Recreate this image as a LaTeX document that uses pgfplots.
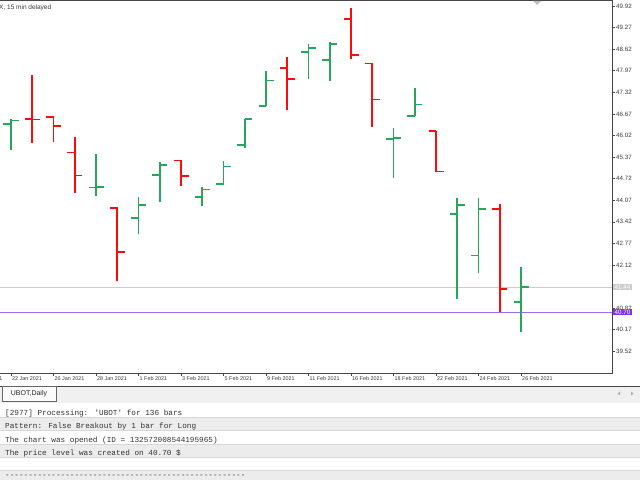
\documentclass[border=0pt]{standalone}
\usepackage{pgfplots}
\pgfplotsset{compat=1.18}
\usepackage{pgfplotstable}
\usepackage{fontspec}
\setmainfont{Liberation Sans}
\newfontfamily\monofont{Liberation Mono}
\definecolor{bull}{RGB}{38,166,91}
\definecolor{bear}{RGB}{255,10,10}
\definecolor{lvl}{RGB}{165,105,240}
\definecolor{lvlbox}{RGB}{130,50,230}
\definecolor{bidgray}{RGB}{205,205,205}
\definecolor{axisgray}{RGB}{70,70,70}
\definecolor{labgray}{RGB}{60,60,60}
\definecolor{rowgray}{RGB}{236,236,236}
\definecolor{sepgray}{RGB}{215,215,215}
\definecolor{strip}{RGB}{240,240,240}

\pgfdeclareplotmark{ohlcopen}{\pgfpathmoveto{\pgfqpoint{-7.5pt}{0pt}}\pgfpathlineto{\pgfqpoint{0pt}{0pt}}\pgfusepathqstroke}
\pgfdeclareplotmark{ohlcclose}{\pgfpathmoveto{\pgfqpoint{0pt}{0pt}}\pgfpathlineto{\pgfqpoint{7.5pt}{0pt}}\pgfusepathqstroke}

% i open high low close
\pgfplotstableread{
i O H L C
1 46.37 46.51 45.58 46.47
5 44.46 45.46 44.20 44.47
7 43.54 44.18 43.05 43.93
8 44.83 45.22 44.01 45.13
10 44.17 44.46 43.90 44.40
11 44.56 45.26 44.55 45.09
12 45.73 46.52 45.63 46.51
13 46.91 47.96 46.91 47.67
15 48.53 48.77 47.71 48.66
16 48.30 48.83 47.67 48.78
19 45.91 46.25 44.75 45.95
20 46.61 47.44 46.61 46.95
22 43.66 44.14 41.10 43.93
23 42.40 44.14 41.87 43.81
25 41.01 42.06 40.11 41.45
}\greendata

\pgfplotstableread{
i O H L C
2 46.52 47.84 45.80 46.50
3 46.58 46.58 45.81 46.31
4 45.51 45.98 44.30 44.81
6 43.83 43.86 41.65 42.51
9 45.27 45.27 44.49 44.80
14 48.06 48.39 46.79 47.72
17 49.53 49.85 48.33 48.45
18 48.19 48.19 46.28 47.11
21 46.16 46.16 44.93 44.93
24 43.81 43.96 40.70 41.40
}\reddata

% high-low ranges (low, high, break) for each bar
\pgfplotstableread{
x y
1 45.58
1 46.51
1 nan
5 44.20
5 45.46
5 nan
7 43.05
7 44.18
7 nan
8 44.01
8 45.22
8 nan
10 43.90
10 44.46
10 nan
11 44.55
11 45.26
11 nan
12 45.63
12 46.52
12 nan
13 46.91
13 47.96
13 nan
15 47.71
15 48.77
15 nan
16 47.67
16 48.83
16 nan
19 44.75
19 46.25
19 nan
20 46.61
20 47.44
20 nan
22 41.10
22 44.14
22 nan
23 41.87
23 44.14
23 nan
25 40.11
25 42.06
}\greenhl

\pgfplotstableread{
x y
2 45.80
2 47.84
2 nan
3 45.81
3 46.58
3 nan
4 44.30
4 45.98
4 nan
6 41.65
6 43.86
6 nan
9 44.49
9 45.27
9 nan
14 46.79
14 48.39
14 nan
17 48.33
17 49.85
17 nan
18 46.28
18 48.19
18 nan
21 44.93
21 46.16
21 nan
24 40.70
24 43.96
}\redhl

\begin{document}
\begin{tikzpicture}
\useasboundingbox (0pt,0pt) rectangle (640pt,480pt);
\fill[white] (0pt,0pt) rectangle (640pt,480pt);

\begin{axis}[
  at={(0pt,107pt)}, anchor=south west,
  width=612pt, height=372pt, scale only axis,
  xmin=0.4824, xmax=29.28, ymin=38.866, ymax=50.071,
  axis line style={draw=none},
  unbounded coords=jump,
  /pgf/number format/assume math mode=true,
  tick align=outside,
  major tick length=3pt,
  tick style={axisgray, line width=0.6pt},
  xtick pos=bottom, ytick pos=right,
  yticklabel pos=right,
  xtick={1,3,5,7,9,11,13,15,17,19,21,23,25},
  xticklabels={22 Jan 2021,26 Jan 2021,28 Jan 2021,1 Feb 2021,3 Feb 2021,5 Feb 2021,9 Feb 2021,11 Feb 2021,16 Feb 2021,18 Feb 2021,22 Feb 2021,24 Feb 2021,26 Feb 2021},
  xticklabel style={font=\fontsize{5.4}{6}\selectfont, text=labgray, anchor=north west, inner sep=0.5pt, xshift=0.5pt},
  ytick={39.52,40.17,40.82,42.12,42.77,43.42,44.07,44.72,45.37,46.02,46.67,47.32,47.97,48.62,49.27,49.92},
  yticklabels={39.52,40.17,40.82,42.12,42.77,43.42,44.07,44.72,45.37,46.02,46.67,47.32,47.97,48.62,49.27,49.92},
  yticklabel style={font=\fontsize{6.2}{7}\selectfont, text=labgray, anchor=west, inner sep=0.5pt, xshift=0.5pt},
]
% price level lines
\addplot[bidgray, line width=0.9pt] coordinates {(0.4824,41.44) (29.28,41.44)};
\addplot[lvl, line width=1pt] coordinates {(0.4824,40.70) (29.28,40.70)};

% green bars
\addplot[draw=bull, line width=1.8pt, mark=none] table[x=x, y=y] {\greenhl};
\addplot[only marks, mark=ohlcopen, mark options={line width=1.5pt, draw=bull}] table[x=i, y=O] {\greendata};
\addplot[only marks, mark=ohlcclose, mark options={line width=1.5pt, draw=bull}] table[x=i, y=C] {\greendata};

% red bars
\addplot[draw=bear, line width=1.8pt, mark=none] table[x=x, y=y] {\redhl};
\addplot[only marks, mark=ohlcopen, mark options={line width=1.5pt, draw=bear}] table[x=i, y=O] {\reddata};
\addplot[only marks, mark=ohlcclose, mark options={line width=1.5pt, draw=bear}] table[x=i, y=C] {\reddata};
\end{axis}

% chart frame
\draw[axisgray, line width=0.8pt] (0pt,479.3pt) -- (612pt,479.3pt) -- (612pt,107pt) -- (0pt,107pt);
% level labels on the price scale
\node[fill=bidgray, text=white, font=\fontsize{6.2}{7}\selectfont, inner xsep=1.5pt, inner ysep=1pt, anchor=west] at (613pt,193pt) {41.44};
\node[fill=lvlbox, text=white, font=\fontsize{6.2}{7}\selectfont, inner xsep=1.5pt, inner ysep=1pt, anchor=west] at (613pt,168pt) {40.70};
% top-left caption and marker
\node[anchor=west, inner sep=0pt, font=\fontsize{6.5}{7}\selectfont, text=labgray] at (-1pt,472pt) {X, 15 min delayed};
\fill[gray!50] (533pt,479pt) -- (541pt,479pt) -- (537pt,475pt) -- cycle;
\node[anchor=north east, inner sep=0.5pt, font=\fontsize{5.4}{6}\selectfont, text=labgray] at (3pt,104pt) {1};

% bottom panel
\fill[strip] (0pt,77pt) rectangle (640pt,94pt);
\draw[gray!55!black, line width=0.9pt] (0pt,94pt) -- (640pt,94pt);
\filldraw[fill=white!97!gray, draw=gray!80!black, line width=0.6pt] (2pt,78.5pt) -- (2pt,94pt) -- (56pt,94pt) -- (56pt,78.5pt) -- cycle;
\node[font=\fontsize{7}{8}\selectfont, text=black!85] at (29pt,86pt) {UBOT,Daily};
\fill[gray!60] (620pt,84.5pt) -- (620pt,88.5pt) -- (617.5pt,86.5pt) -- cycle;
\fill[gray!60] (631pt,84.5pt) -- (631pt,88.5pt) -- (633.5pt,86.5pt) -- cycle;
\draw[sepgray, line width=0.7pt] (0pt,77pt) -- (640pt,77pt);
\fill[white] (0pt,62.7pt) rectangle (640pt,76.6pt);
\fill[rowgray] (0pt,49.3pt) rectangle (640pt,62.7pt);
\fill[white] (0pt,36pt) rectangle (640pt,49.3pt);
\fill[rowgray] (0pt,22.7pt) rectangle (640pt,36pt);
\fill[white] (0pt,9.3pt) rectangle (640pt,22.7pt);
\fill[rowgray] (0pt,0pt) rectangle (640pt,9.3pt);
\foreach \yy in {62.7,49.3,36,22.7,9.3} {\draw[sepgray, line width=0.7pt] (0pt,\yy pt) -- (640pt,\yy pt);}
\begin{scope}[every node/.style={anchor=base west, inner sep=0pt, font=\monofont\fontsize{7.7}{8}\selectfont, text=black!80}]
\node at (5pt,64.6pt) {[2977] Processing: 'UBOT' for 136 bars};
\node at (5pt,51.6pt) {Pattern: False Breakout by 1 bar for Long};
\node at (5pt,38pt) {The chart was opened (ID = 132572008544195965)};
\node at (5pt,24.6pt) {The price level was created on 40.70 \$};
\node at (5pt,2.5pt) {----------------------------------------------------};
\end{scope}
\end{tikzpicture}
\end{document}
